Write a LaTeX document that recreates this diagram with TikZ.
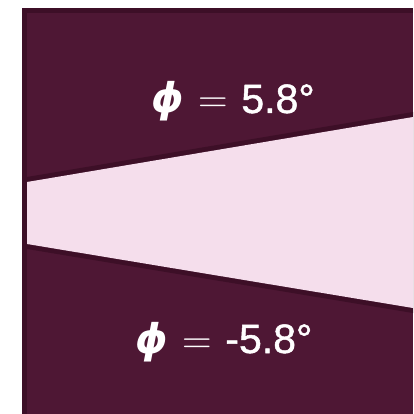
\documentclass[tikz,border=0pt]{standalone}
\usepackage{fontspec}
\setmainfont{Liberation Sans}
\newfontfamily\djfont{DejaVu Sans}
\newfontface\numfont{Liberation Sans}[FakeBold=1.2]
\newfontface\lmfont{Latin Modern Roman}
\definecolor{maroon}{HTML}{4E1734}
\definecolor{darkm}{HTML}{3D0F27}
\definecolor{pinkw}{HTML}{F5DEEC}
\tikzset{lbl/.style={text=white,anchor=base west,inner sep=0pt}}
\newcommand{\phiglyph}{{\djfont\itshape\bfseries ϕ}}
\newcommand{\eqglyph}{{\lmfont =}}
\begin{document}
\begin{tikzpicture}[x=1pt,y=-1pt]
\useasboundingbox (0,0) rectangle (413,414);
\fill[darkm] (22,8) rectangle (413,414);
\fill[maroon] (27,13) rectangle (413,414);
\fill[darkm] (27,177) -- (413,112) -- (413,313) -- (27,249) -- cycle;
\fill[pinkw] (27,182) -- (413,117) -- (413,308) -- (27,244) -- cycle;
\node[lbl] (upper) at (151,113) {\fontsize{41}{42}\selectfont\phiglyph\hspace{15pt}\eqglyph\hspace{13pt}{\numfont 5.8°}};
\node[lbl] (lower) at (135,353) {\fontsize{41}{42}\selectfont\phiglyph\hspace{15pt}\eqglyph\hspace{13pt}{\numfont -5.8°}};
\end{tikzpicture}
\end{document}
